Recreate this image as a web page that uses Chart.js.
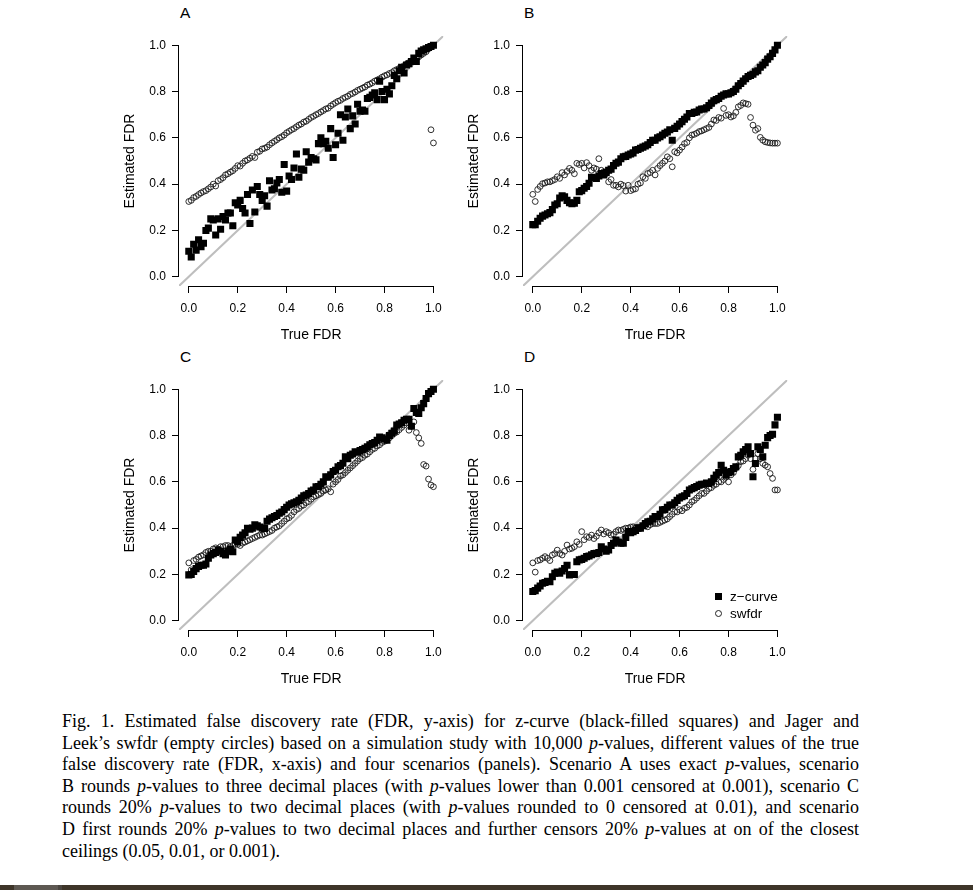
<!DOCTYPE html>
<html>
<head>
<meta charset="utf-8">
<script src="https://cdn.jsdelivr.net/npm/chart.js@4.4.1/dist/chart.umd.min.js"></script>
<style>
  html, body { margin: 0; padding: 0; background: #fff; }
  body { width: 973px; height: 890px; position: relative; overflow: hidden; }
  canvas { position: absolute; }
  .panel-letter { position: absolute; font: 15.5px "Liberation Sans", Arial, sans-serif; color: #000; }
  .legend { position: absolute; left: 713px; top: 588px; font: 13.5px "Liberation Sans", Arial, sans-serif; color: #000; }
  .legend div { height: 17px; line-height: 17px; position: relative; padding-left: 17px; }
  .legend .sq { position: absolute; left: 2px; top: 5px; width: 7px; height: 7px; background: #000; }
  .legend .ci { position: absolute; left: 2px; top: 5px; width: 5px; height: 5px; border: 1px solid #222; border-radius: 50%; }
  .caption { position: absolute; left: 62px; top: 711px; width: 797px; font: 18px "Liberation Serif", "DejaVu Serif", serif; color: #000; }
  .caption div { height: 21.6px; line-height: 21.6px; text-align: justify; text-align-last: justify; white-space: nowrap; }
  .caption div.last { text-align-last: left; }
  .bottom-bar { position: absolute; left: 0; top: 885px; width: 973px; height: 5px; background: #3e3529; }
  .bottom-bar span { position: absolute; top: 0; height: 5px; }
</style>
</head>
<body>

<div class="panel-letter" style="left:180px;top:4px">A</div>
<div class="panel-letter" style="left:524px;top:4px">B</div>
<div class="panel-letter" style="left:180px;top:348px">C</div>
<div class="panel-letter" style="left:524px;top:348px">D</div>

<canvas id="chartA" width="350" height="324" style="left:100px;top:22px"></canvas>
<canvas id="chartB" width="350" height="324" style="left:444px;top:22px"></canvas>
<canvas id="chartC" width="350" height="324" style="left:100px;top:366px"></canvas>
<canvas id="chartD" width="350" height="324" style="left:444px;top:366px"></canvas>

<div class="legend">
  <div><span class="sq"></span>z&minus;curve</div>
  <div><span class="ci"></span>swfdr</div>
</div>

<div class="caption">
  <div>Fig. 1. Estimated false discovery rate (FDR, y-axis) for z-curve (black-filled squares) and Jager and</div>
  <div>Leek’s swfdr (empty circles) based on a simulation study with 10,000 <i>p</i>-values, different values of the true</div>
  <div>false discovery rate (FDR, x-axis) and four scenarios (panels). Scenario A uses exact <i>p</i>-values, scenario</div>
  <div>B rounds <i>p</i>-values to three decimal places (with <i>p</i>-values lower than 0.001 censored at 0.001), scenario C</div>
  <div>rounds 20% <i>p</i>-values to two decimal places (with <i>p</i>-values rounded to 0 censored at 0.01), and scenario</div>
  <div>D first rounds 20% <i>p</i>-values to two decimal places and further censors 20% <i>p</i>-values at on of the closest</div>
  <div class="last">ceilings (0.05, 0.01, or 0.001).</div>
</div>

<div class="bottom-bar">
  <span style="left:14px;width:44px;background:#5d5852"></span>
  <span style="left:58px;width:4px;background:#4a453f"></span>
</div>

<script>
const axisTicks = [0.0, 0.2, 0.4, 0.6, 0.8, 1.0];
const diagonal = [-0.1, 1.1];

const trueFdr = [
  0.00, 0.01, 0.02, 0.03, 0.04, 0.05, 0.06, 0.07, 0.08, 0.09,
  0.10, 0.11, 0.12, 0.13, 0.14, 0.15, 0.16, 0.17, 0.18, 0.19,
  0.20, 0.21, 0.22, 0.23, 0.24, 0.25, 0.26, 0.27, 0.28, 0.29,
  0.30, 0.31, 0.32, 0.33, 0.34, 0.35, 0.36, 0.37, 0.38, 0.39,
  0.40, 0.41, 0.42, 0.43, 0.44, 0.45, 0.46, 0.47, 0.48, 0.49,
  0.50, 0.51, 0.52, 0.53, 0.54, 0.55, 0.56, 0.57, 0.58, 0.59,
  0.60, 0.61, 0.62, 0.63, 0.64, 0.65, 0.66, 0.67, 0.68, 0.69,
  0.70, 0.71, 0.72, 0.73, 0.74, 0.75, 0.76, 0.77, 0.78, 0.79,
  0.80, 0.81, 0.82, 0.83, 0.84, 0.85, 0.86, 0.87, 0.88, 0.89,
  0.90, 0.91, 0.92, 0.93, 0.94, 0.95, 0.96, 0.97, 0.98, 0.99,
  1.00
];

// scenario A
const zcurveA = [
  0.110, 0.085, 0.140, 0.115, 0.160, 0.130, 0.145, 0.200, 0.210, 0.250,
  0.245, 0.180, 0.250, 0.205, 0.260, 0.245, 0.275, 0.275, 0.220, 0.320,
  0.310, 0.330, 0.295, 0.275, 0.355, 0.230, 0.375, 0.280, 0.390, 0.355,
  0.330, 0.350, 0.305, 0.415, 0.375, 0.380, 0.405, 0.420, 0.365, 0.485,
  0.370, 0.435, 0.420, 0.470, 0.530, 0.430, 0.465, 0.460, 0.540, 0.495,
  0.515, 0.510, 0.505, 0.575, 0.600, 0.575, 0.585, 0.555, 0.640, 0.515,
  0.570, 0.620, 0.700, 0.590, 0.690, 0.725, 0.640, 0.695, 0.660, 0.745,
  0.715, 0.720, 0.715, 0.770, 0.775, 0.785, 0.795, 0.765, 0.845, 0.800,
  0.765, 0.810, 0.790, 0.825, 0.870, 0.855, 0.890, 0.905, 0.880, 0.915,
  0.920, 0.930, 0.945, 0.930, 0.965, 0.975, 0.980, 0.985, 0.990, 0.995,
  1.000
];
const swfdrA = [
  0.325, 0.330, 0.342, 0.347, 0.355, 0.362, 0.368, 0.372, 0.380, 0.388,
  0.400, 0.392, 0.415, 0.420, 0.428, 0.440, 0.445, 0.452, 0.458, 0.468,
  0.480, 0.478, 0.490, 0.500, 0.505, 0.512, 0.520, 0.515, 0.538, 0.542,
  0.552, 0.555, 0.560, 0.570, 0.578, 0.585, 0.592, 0.600, 0.605, 0.612,
  0.622, 0.628, 0.635, 0.640, 0.648, 0.655, 0.660, 0.668, 0.672, 0.680,
  0.688, 0.693, 0.700, 0.705, 0.712, 0.718, 0.725, 0.728, 0.738, 0.745,
  0.752, 0.758, 0.762, 0.770, 0.775, 0.780, 0.788, 0.792, 0.798, 0.805,
  0.810, 0.815, 0.820, 0.828, 0.832, 0.838, 0.845, 0.850, 0.855, 0.862,
  0.868, 0.872, 0.878, 0.882, 0.890, 0.895, 0.900, 0.905, 0.912, 0.918,
  0.925, 0.930, 0.935, 0.942, 0.950, 0.958, 0.965, 0.972, 0.985, 0.635,
  0.578
];

// scenario B
const zcurveB = [
  0.225, 0.225, 0.240, 0.253, 0.262, 0.267, 0.272, 0.277, 0.290, 0.310,
  0.315, 0.340, 0.350, 0.345, 0.330, 0.320, 0.315, 0.318, 0.330, 0.367,
  0.372, 0.382, 0.390, 0.404, 0.430, 0.428, 0.425, 0.435, 0.446, 0.440,
  0.450, 0.460, 0.465, 0.480, 0.490, 0.495, 0.510, 0.518, 0.520, 0.526,
  0.530, 0.535, 0.547, 0.550, 0.555, 0.560, 0.565, 0.570, 0.580, 0.590,
  0.590, 0.600, 0.605, 0.612, 0.620, 0.625, 0.635, 0.590, 0.641, 0.650,
  0.660, 0.670, 0.680, 0.690, 0.705, 0.705, 0.710, 0.712, 0.720, 0.725,
  0.725, 0.730, 0.740, 0.750, 0.760, 0.765, 0.770, 0.780, 0.785, 0.790,
  0.790, 0.795, 0.800, 0.810, 0.825, 0.835, 0.845, 0.855, 0.865, 0.870,
  0.875, 0.885, 0.890, 0.905, 0.915, 0.925, 0.940, 0.950, 0.965, 0.980,
  1.000
];
const swfdrB = [
  0.356, 0.325, 0.377, 0.390, 0.402, 0.405, 0.410, 0.410, 0.415, 0.420,
  0.432, 0.425, 0.450, 0.440, 0.455, 0.468, 0.460, 0.445, 0.490, 0.485,
  0.490, 0.470, 0.493, 0.480, 0.460, 0.470, 0.465, 0.510, 0.460, 0.454,
  0.445, 0.410, 0.420, 0.395, 0.395, 0.388, 0.400, 0.394, 0.370, 0.395,
  0.372, 0.377, 0.380, 0.400, 0.405, 0.432, 0.425, 0.446, 0.450, 0.460,
  0.440, 0.468, 0.480, 0.490, 0.500, 0.518, 0.510, 0.475, 0.540, 0.535,
  0.547, 0.560, 0.575, 0.580, 0.600, 0.612, 0.615, 0.620, 0.627, 0.630,
  0.635, 0.640, 0.645, 0.660, 0.677, 0.675, 0.688, 0.685, 0.727, 0.697,
  0.700, 0.690, 0.695, 0.710, 0.734, 0.740, 0.751, 0.748, 0.745, 0.688,
  0.655, 0.633, 0.640, 0.602, 0.590, 0.583, 0.580, 0.578, 0.577, 0.577,
  0.577
];

// scenario C
const zcurveC = [
  0.198, 0.200, 0.213, 0.225, 0.234, 0.240, 0.240, 0.245, 0.270, 0.284,
  0.290, 0.295, 0.305, 0.300, 0.290, 0.284, 0.300, 0.310, 0.298, 0.349,
  0.340, 0.360, 0.370, 0.380, 0.399, 0.395, 0.400, 0.414, 0.410, 0.405,
  0.400, 0.399, 0.430, 0.439, 0.445, 0.450, 0.455, 0.464, 0.470, 0.480,
  0.490, 0.500, 0.505, 0.510, 0.514, 0.520, 0.530, 0.540, 0.543, 0.550,
  0.560, 0.565, 0.579, 0.580, 0.590, 0.600, 0.622, 0.620, 0.630, 0.645,
  0.650, 0.665, 0.670, 0.680, 0.708, 0.700, 0.715, 0.720, 0.730, 0.728,
  0.735, 0.740, 0.745, 0.751, 0.760, 0.765, 0.770, 0.780, 0.794, 0.790,
  0.785, 0.780, 0.800, 0.810, 0.820, 0.845, 0.850, 0.855, 0.866, 0.870,
  0.870, 0.840, 0.917, 0.900, 0.895, 0.920, 0.938, 0.960, 0.981, 0.990,
  1.000
];
const swfdrC = [
  0.250, 0.220, 0.260, 0.265, 0.275, 0.280, 0.285, 0.295, 0.300, 0.300,
  0.310, 0.315, 0.310, 0.320, 0.320, 0.325, 0.325, 0.320, 0.325, 0.330,
  0.330, 0.325, 0.335, 0.340, 0.345, 0.350, 0.355, 0.360, 0.365, 0.370,
  0.370, 0.375, 0.380, 0.385, 0.390, 0.400, 0.405, 0.410, 0.420, 0.430,
  0.440, 0.445, 0.455, 0.470, 0.480, 0.485, 0.495, 0.500, 0.510, 0.515,
  0.525, 0.535, 0.540, 0.545, 0.550, 0.560, 0.565, 0.570, 0.557, 0.590,
  0.600, 0.610, 0.625, 0.630, 0.640, 0.650, 0.660, 0.670, 0.680, 0.690,
  0.700, 0.705, 0.715, 0.720, 0.730, 0.740, 0.745, 0.755, 0.760, 0.770,
  0.775, 0.780, 0.790, 0.800, 0.810, 0.815, 0.825, 0.835, 0.845, 0.855,
  0.823, 0.840, 0.859, 0.813, 0.790, 0.766, 0.675, 0.668, 0.612, 0.586,
  0.579
];

// scenario D
const zcurveD = [
  0.126, 0.130, 0.141, 0.150, 0.162, 0.165, 0.170, 0.169, 0.190, 0.205,
  0.210, 0.205, 0.215, 0.226, 0.240, 0.198, 0.200, 0.200, 0.255, 0.263,
  0.265, 0.270, 0.277, 0.280, 0.285, 0.290, 0.291, 0.295, 0.320, 0.310,
  0.300, 0.306, 0.325, 0.335, 0.349, 0.340, 0.335, 0.335, 0.360, 0.385,
  0.380, 0.385, 0.390, 0.400, 0.400, 0.410, 0.420, 0.428, 0.430, 0.440,
  0.450, 0.450, 0.460, 0.479, 0.480, 0.490, 0.500, 0.500, 0.510, 0.520,
  0.530, 0.536, 0.540, 0.550, 0.565, 0.570, 0.575, 0.580, 0.586, 0.590,
  0.590, 0.595, 0.593, 0.600, 0.615, 0.629, 0.640, 0.672, 0.650, 0.629,
  0.640, 0.645, 0.658, 0.665, 0.708, 0.715, 0.730, 0.740, 0.751, 0.722,
  0.622, 0.679, 0.751, 0.740, 0.708, 0.758, 0.791, 0.800, 0.806, 0.846,
  0.879
];
const swfdrD = [
  0.250, 0.210, 0.260, 0.263, 0.270, 0.277, 0.270, 0.260, 0.284, 0.290,
  0.305, 0.290, 0.284, 0.300, 0.327, 0.310, 0.313, 0.320, 0.341, 0.330,
  0.385, 0.350, 0.363, 0.360, 0.370, 0.355, 0.365, 0.380, 0.392, 0.375,
  0.385, 0.380, 0.370, 0.374, 0.385, 0.392, 0.390, 0.395, 0.400, 0.400,
  0.405, 0.406, 0.400, 0.405, 0.400, 0.410, 0.410, 0.406, 0.415, 0.420,
  0.420, 0.420, 0.425, 0.430, 0.435, 0.440, 0.450, 0.460, 0.471, 0.470,
  0.480, 0.475, 0.486, 0.490, 0.500, 0.514, 0.520, 0.530, 0.540, 0.550,
  0.550, 0.560, 0.571, 0.575, 0.585, 0.590, 0.600, 0.600, 0.610, 0.620,
  0.600, 0.630, 0.640, 0.658, 0.670, 0.687, 0.690, 0.700, 0.715, 0.700,
  0.654, 0.700, 0.722, 0.700, 0.680, 0.672, 0.665, 0.636, 0.615, 0.565,
  0.565
];

const tickFont = { family: "Liberation Sans", size: 12 };
const titleFont = { family: "Liberation Sans", size: 14 };

// R style axis line, only from first to last tick
const rAxisLines = {
  id: "rAxisLines",
  afterDraw(chart) {
    const { ctx, chartArea, scales } = chart;
    const first = axisTicks[0];
    const last = axisTicks[axisTicks.length - 1];
    ctx.save();
    ctx.strokeStyle = "#000";
    ctx.lineWidth = 1;
    ctx.beginPath();
    ctx.moveTo(scales.x.getPixelForValue(first), Math.round(chartArea.bottom) + 0.5);
    ctx.lineTo(scales.x.getPixelForValue(last), Math.round(chartArea.bottom) + 0.5);
    ctx.moveTo(Math.round(chartArea.left) - 0.5, scales.y.getPixelForValue(first));
    ctx.lineTo(Math.round(chartArea.left) - 0.5, scales.y.getPixelForValue(last));
    ctx.stroke();
    ctx.restore();
  }
};

function toPoints(values) {
  return values.map((v, i) => ({ x: trueFdr[i], y: v }));
}

function makeAxis(titleText, isX) {
  return {
    type: "linear",
    min: -0.04,
    max: 1.04,
    afterBuildTicks: axis => { axis.ticks = axisTicks.map(v => ({ value: v })); },
    afterFit: axis => {
      if (isX) axis.height = 60;
      else axis.width = 79;
    },
    ticks: {
      callback: v => Number(v).toFixed(1),
      font: tickFont,
      color: "#000",
      padding: isX ? 8 : 6,
      maxRotation: 0,
      autoSkip: false
    },
    grid: {
      drawOnChartArea: false,
      drawTicks: true,
      tickLength: 7,
      color: "#000",
      lineWidth: 1
    },
    border: { display: false },
    title: {
      display: true,
      text: titleText,
      font: titleFont,
      color: "#000",
      padding: isX ? { top: 0, bottom: 2.6 } : { top: 21.6, bottom: 0 }
    }
  };
}

function makePanel(canvasId, zcurve, swfdr) {
  return new Chart(document.getElementById(canvasId), {
    type: "scatter",
    data: {
      datasets: [
        {
          label: "z-curve",
          data: toPoints(zcurve),
          pointStyle: "rect",
          pointRadius: 5,
          pointBackgroundColor: "#000",
          pointBorderWidth: 0
        },
        {
          label: "swfdr",
          data: toPoints(swfdr),
          pointStyle: "circle",
          pointRadius: 2.9,
          pointBackgroundColor: "rgba(0,0,0,0)",
          pointBorderColor: "#1a1a1a",
          pointBorderWidth: 0.9
        },
        {
          label: "diagonal",
          type: "line",
          data: diagonal.map(v => ({ x: v, y: v })),
          borderColor: "#bebebe",
          borderWidth: 2,
          pointRadius: 0,
          showLine: true
        }
      ]
    },
    options: {
      responsive: false,
      animation: false,
      devicePixelRatio: 1,
      layout: { padding: { left: 0, top: 14, right: 6, bottom: 0 } },
      plugins: {
        legend: { display: false },
        tooltip: { enabled: false }
      },
      scales: {
        x: makeAxis("True FDR", true),
        y: makeAxis("Estimated FDR", false)
      }
    },
    plugins: [rAxisLines]
  });
}

makePanel("chartA", zcurveA, swfdrA);
makePanel("chartB", zcurveB, swfdrB);
makePanel("chartC", zcurveC, swfdrC);
makePanel("chartD", zcurveD, swfdrD);
</script>
</body>
</html>
